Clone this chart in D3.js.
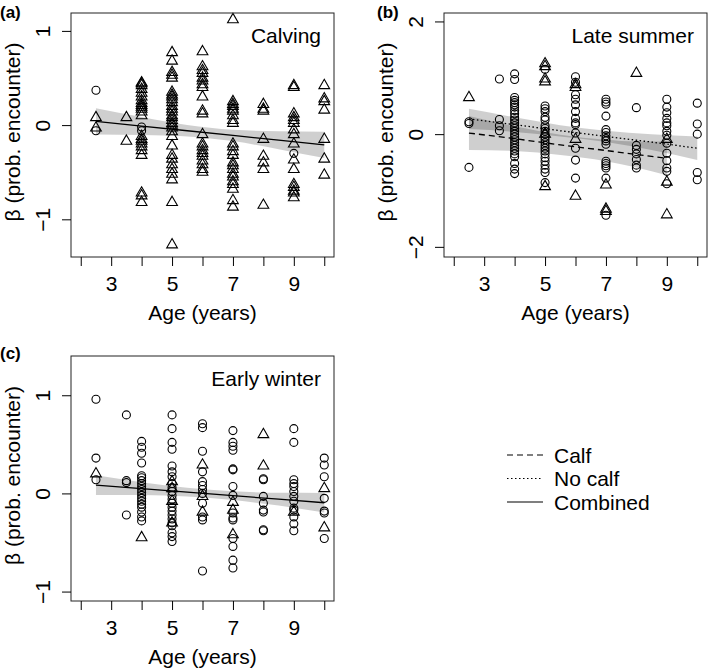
<!DOCTYPE html>
<html>
<head>
<meta charset="utf-8">
<title>Encounter probability by age</title>
<script src="https://cdn.jsdelivr.net/npm/d3@7"></script>
<style>
 body { margin: 0; background: #fff; }
 text { font-family: "Liberation Sans", Arial, Helvetica, sans-serif; fill: #000; }
</style>
</head>
<body>
<script>

// ---- data (age -> beta values) ----
var calvingCircles = {2.5: [0.37, -0.06], 4: [-0.02, -0.06], 9: [-0.3]};
var calvingTriangles = {
  2.5: [0.08, -0.03],
  3.5: [0.08, -0.17],
  4: [0.45, 0.44, 0.42, 0.38, 0.34, 0.3, 0.26, 0.23, 0.21, 0.19, 0.17, 0.14, 0.1, -0.12, -0.15, -0.17, -0.2, -0.23, -0.27, -0.32, -0.72, -0.75, -0.82],
  5: [0.77, 0.68, 0.56, 0.53, 0.5, 0.35, 0.32, 0.3, 0.27, 0.24, 0.2, 0.17, 0.14, 0.1, 0.08, 0.05, 0.02, 0, -0.03, -0.07, -0.12, -0.22, -0.32, -0.36, -0.42, -0.47, -0.52, -0.58, -0.82, -1.27],
  6: [0.78, 0.62, 0.58, 0.55, 0.5, 0.47, 0.43, 0.4, 0.3, 0.15, 0.12, -0.1, -0.2, -0.23, -0.27, -0.3, -0.33, -0.38, -0.42, -0.47, -0.5],
  7: [1.12, 0.25, 0.22, 0.2, 0.17, 0.15, 0.1, 0.05, 0.02, -0.2, -0.23, -0.28, -0.32, -0.4, -0.43, -0.47, -0.52, -0.55, -0.6, -0.63, -0.68, -0.8, -0.87],
  8: [0.22, 0.17, 0.15, -0.15, -0.33, -0.4, -0.47, -0.85],
  9: [0.42, 0.4, 0.12, 0.08, 0.05, 0.02, -0.05, -0.1, -0.2, -0.37, -0.47, -0.63, -0.66, -0.7, -0.72, -0.77],
  10: [0.42, 0.28, 0.25, 0.16, -0.15, -0.36, -0.53]
};

var summerCircles = {
  2.5: [0.22, 0.19, -0.59],
  3.5: [0.98, 0.26, 0.15, 0.06],
  4: [1.07, 0.97, 0.65, 0.6, 0.56, 0.52, 0.48, 0.42, 0.36, 0.3, 0.25, 0.2, 0.15, 0.1, 0.05, 0, -0.05, -0.1, -0.15, -0.2, -0.25, -0.3, -0.35, -0.4, -0.52, -0.62, -0.7],
  5: [1.15, 0.5, 0.45, 0.4, 0.3, 0.25, 0.15, 0.1, 0.05, 0, -0.05, -0.1, -0.15, -0.2, -0.25, -0.3, -0.35, -0.42, -0.48, -0.55, -0.62, -0.68, -0.86],
  6: [1.02, 0.92, 0.7, 0.62, 0.52, 0.4, 0.28, 0.2, 0.17, 0.02, -0.25, -0.46, -0.78],
  7: [0.62, 0.57, 0.53, 0.32, 0.08, 0.03, -0.03, -0.08, -0.12, -0.18, -0.48, -0.52, -0.56, -0.6, -0.78, -1.44],
  8: [0.47, -0.2, -0.27, -0.35, -0.45, -0.55, -0.6],
  9: [0.62, 0.48, 0.38, 0.28, 0.2, 0.15, 0.05, -0.02, -0.16, -0.34, -0.47, -0.6, -0.66, -0.88],
  10: [0.55, 0.18, 0.0, -0.68, -0.81]
};
var summerTriangles = {
  2.5: [0.65],
  5: [1.25, 1.2, 0.98, 0.93, 0.0, -0.93],
  6: [0.88, 0.83, -0.09, -1.1],
  7: [-0.9, -1.33, -1.37],
  8: [1.08],
  9: [-0.09, -0.85, -1.43]
};

var winterCircles = {
  2.5: [0.96, 0.36, 0.14],
  3.5: [0.8, 0.13, 0.11, -0.22],
  4: [0.53, 0.47, 0.41, 0.31, 0.18, 0.16, 0.13, 0.1, 0.07, 0.04, 0.01, -0.02, -0.05, -0.08, -0.11, -0.14, -0.19, -0.24, -0.28],
  5: [0.8, 0.66, 0.52, 0.45, 0.28, 0.22, 0.17, 0.1, 0.06, 0.02, -0.02, -0.06, -0.1, -0.14, -0.18, -0.22, -0.26, -0.3, -0.33, -0.4, -0.44, -0.49],
  6: [0.71, 0.67, 0.43, 0.22, 0.12, 0.08, 0.04, 0.0, -0.1, -0.24, -0.27, -0.79],
  7: [0.64, 0.52, 0.48, 0.44, 0.25, 0.24, 0.07, -0.02, -0.2, -0.25, -0.27, -0.46, -0.54, -0.68, -0.76],
  8: [0.15, 0.14, -0.03, -0.1, -0.17, -0.19, -0.37, -0.38],
  9: [0.66, 0.52, 0.14, 0.1, 0.07, 0.02, -0.03, -0.08, -0.15, -0.17, -0.24, -0.31, -0.38],
  10: [0.36, 0.29, 0.17, -0.05, -0.18, -0.2, -0.46]
};
var winterTriangles = {
  2.5: [0.2],
  4: [-0.45],
  5: [0.12, 0.05, -0.08, -0.3],
  6: [0.29, -0.03, -0.19],
  7: [-0.09, -0.17, -0.42],
  8: [0.6, 0.28],
  9: [-0.19],
  10: [0.05, -0.35]
};

// fitted lines and confidence bands
var bandAges   = [2.5, 4, 5.5, 7, 8.5, 10];
var calvingFit = [0.04, -0.01, -0.06, -0.11, -0.16, -0.21];
var calvingHi  = [0.18, 0.085, 0.0, -0.05, -0.065, -0.07];
var calvingLo  = [-0.10, -0.105, -0.12, -0.17, -0.255, -0.35];

var calfAges = [2.5, 4, 5.5, 7, 8, 9];
var calfFit  = [0.02, -0.08, -0.19, -0.29, -0.36, -0.43];
var calfHi   = [0.32, 0.14, -0.01, -0.10, -0.13, -0.13];
var calfLo   = [-0.28, -0.30, -0.37, -0.48, -0.59, -0.73];

var noCalfFit = [0.27, 0.17, 0.06, -0.04, -0.14, -0.25];
var noCalfHi  = [0.45, 0.30, 0.16, 0.06, 0.0, -0.04];
var noCalfLo  = [0.09, 0.04, -0.04, -0.14, -0.28, -0.46];

var winterFit = [0.085, 0.049, 0.013, -0.023, -0.059, -0.095];
var winterHi  = [0.185, 0.114, 0.058, 0.022, 0.006, 0.005];
var winterLo  = [-0.015, -0.016, -0.032, -0.068, -0.124, -0.195];

var ageTicks = [2, 3, 4, 5, 6, 7, 8, 9, 10];
var legendLabels = ["Calf", "No calf", "Combined"];

// ---- drawing ----
var w = 709, h = 668;
var svg = d3.select("body").append("svg")
    .attr("width", w).attr("height", h);

function zip(xs, ys) { return xs.map(function(x, i){ return [x, ys[i]]; }); }
function flatten(obj) {
  var out = [];
  Object.keys(obj).forEach(function(k){
    obj[k].forEach(function(v){ out.push([+k, v]); });
  });
  return out;
}
function fmt(d) { return d < 0 ? "\u2212" + (-d) : String(d); }

function panel(p) {
  var x = d3.scaleLinear().domain([1.68, 10.32]).range([p.left, p.right]);
  var y = d3.scaleLinear().domain(p.ydom).range([p.bottom, p.top]);
  var g = svg.append("g");

  // bands
  p.bands.forEach(function(b){
    var area = d3.area()
        .x(function(d){ return x(d[0]); })
        .y0(function(d){ return y(d[1]); })
        .y1(function(d){ return y(d[2]); })
        .curve(d3.curveMonotoneX);
    g.append("path")
      .datum(b.ages.map(function(a, i){ return [a, b.lo[i], b.hi[i]]; }))
      .attr("d", area)
      .attr("fill", "#000").attr("fill-opacity", 0.19);
  });

  // points
  g.selectAll("circle.pt").data(flatten(p.circles)).enter()
    .append("circle").attr("class", "pt")
    .attr("cx", function(d){ return x(d[0]); })
    .attr("cy", function(d){ return y(d[1]); })
    .attr("r", 4)
    .attr("fill", "none").attr("stroke", "#000").attr("stroke-width", 1.1);

  g.selectAll("path.tri").data(flatten(p.triangles)).enter()
    .append("path").attr("class", "tri")
    .attr("d", d3.symbol(d3.symbolTriangle, 50))
    .attr("transform", function(d){ return "translate(" + x(d[0]) + "," + y(d[1]) + ")"; })
    .attr("fill", "none").attr("stroke", "#000").attr("stroke-width", 1.1);

  // fitted lines
  var line = d3.line().x(function(d){ return x(d[0]); }).y(function(d){ return y(d[1]); });
  p.lines.forEach(function(l){
    g.append("path").datum(zip(l.ages, l.fit))
      .attr("d", line)
      .attr("fill", "none").attr("stroke", "#000").attr("stroke-width", 1.3)
      .attr("stroke-dasharray", l.dash);
  });

  // box
  g.append("rect")
    .attr("x", p.left).attr("y", p.top)
    .attr("width", p.right - p.left).attr("height", p.bottom - p.top)
    .attr("fill", "none").attr("stroke", "#222").attr("stroke-width", 1);

  // axes
  var xa = g.append("g").attr("transform", "translate(0," + p.bottom + ")")
    .call(d3.axisBottom(x).tickValues(ageTicks).tickSize(9)
      .tickFormat(function(d){ return d % 2 ? d : ""; }));
  xa.select(".domain").remove();
  xa.selectAll(".tick text").attr("y", 19).attr("font-size", 21).attr("font-family", null);

  var ya = g.append("g").attr("transform", "translate(" + p.left + ",0)")
    .call(d3.axisLeft(y).tickValues(p.yticks).tickSize(9).tickFormat(fmt));
  ya.select(".domain").remove();
  ya.selectAll(".tick text")
    .attr("transform", "rotate(-90)")
    .attr("x", 0).attr("y", -21).attr("dy", 0)
    .attr("text-anchor", "middle")
    .attr("font-size", 21).attr("font-family", null);

  // titles
  g.append("text")
    .attr("x", (p.left + p.right) / 2).attr("y", p.bottom + 63)
    .attr("text-anchor", "middle").attr("font-size", 21)
    .text("Age (years)");
  g.append("text")
    .attr("transform", "translate(" + (p.left - 51) + "," + ((p.top + p.bottom) / 2 - 3) + ") rotate(-90)")
    .attr("text-anchor", "middle").attr("font-size", 21)
    .text("\u03b2 (prob. encounter)");
  g.append("text")
    .attr("x", p.right - 13).attr("y", p.top + 30)
    .attr("text-anchor", "end").attr("font-size", 21)
    .text(p.title);
  g.append("text")
    .attr("x", p.labelX).attr("y", p.labelY)
    .attr("font-size", 17).attr("font-weight", "bold")
    .text(p.label);
}

panel({
  left: 71, right: 334, top: 13, bottom: 257,
  ydom: [-1.40, 1.19], yticks: [-1, 0, 1],
  circles: calvingCircles, triangles: calvingTriangles,
  bands: [{ages: bandAges, lo: calvingLo, hi: calvingHi}],
  lines: [{ages: bandAges, fit: calvingFit, dash: null}],
  title: "Calving", label: "(a)", labelX: 0, labelY: 18
});

panel({
  left: 444, right: 707, top: 13, bottom: 257,
  ydom: [-2.18, 2.15], yticks: [-2, 0, 2],
  circles: summerCircles, triangles: summerTriangles,
  bands: [{ages: calfAges, lo: calfLo, hi: calfHi},
          {ages: bandAges, lo: noCalfLo, hi: noCalfHi}],
  lines: [{ages: calfAges, fit: calfFit, dash: "6,4"},
          {ages: bandAges, fit: noCalfFit, dash: "1.5,2.5"}],
  title: "Late summer", label: "(b)", labelX: 377, labelY: 18
});

panel({
  left: 71, right: 334, top: 356, bottom: 601,
  ydom: [-1.096, 1.40], yticks: [-1, 0, 1],
  circles: winterCircles, triangles: winterTriangles,
  bands: [{ages: bandAges, lo: winterLo, hi: winterHi}],
  lines: [{ages: bandAges, fit: winterFit, dash: null}],
  title: "Early winter", label: "(c)", labelX: 0, labelY: 359
});

// legend
var dashes = ["6,4", "1.5,2.5", null];
var leg = svg.append("g").selectAll("g").data(legendLabels).enter()
  .append("g")
  .attr("transform", function(d, i){ return "translate(507," + (455 + i * 23.5) + ")"; });
leg.append("line")
  .attr("x1", 0).attr("x2", 36)
  .attr("stroke", "#000").attr("stroke-width", 1.2)
  .attr("stroke-dasharray", function(d, i){ return dashes[i]; });
leg.append("text")
  .attr("x", 47).attr("dy", "0.36em")
  .attr("font-size", 21)
  .text(function(d){ return d; });

</script>
</body>
</html>
